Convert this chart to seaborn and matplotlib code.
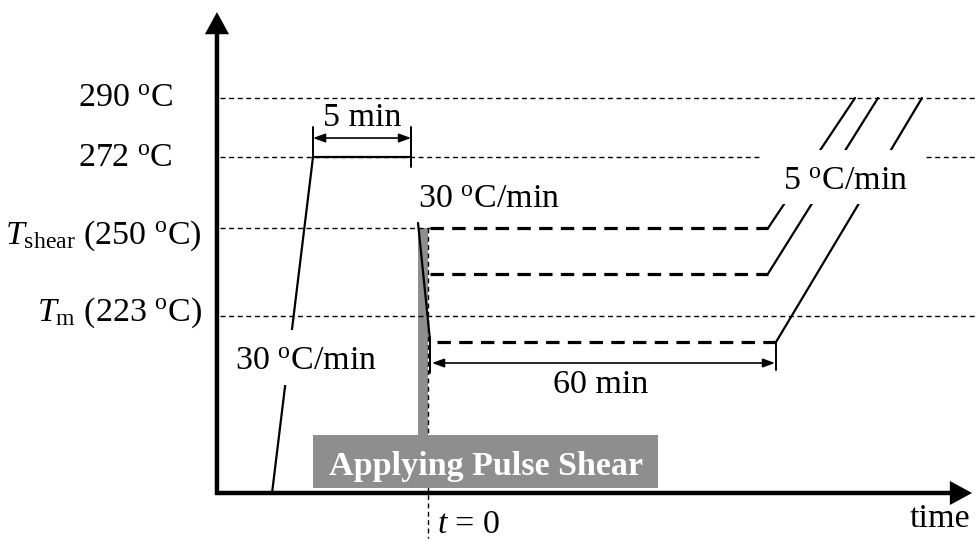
import numpy as np
import pandas as pd
import matplotlib
matplotlib.use("Agg")
import matplotlib.pyplot as plt
import seaborn as sns
from matplotlib.patches import Rectangle

# ---------------- data (schematic: time in min relative to shear start, T in degC) ----
ref_temps = [290, 272, 250, 223]
ref_labels = ["290 $^{\\mathrm{o}}$C", "272 $^{\\mathrm{o}}$C",
              "$T_{\\mathrm{shear}}$ (250 $^{\\mathrm{o}}$C)",
              "$T_{\\mathrm{m}}$ (223 $^{\\mathrm{o}}$C)"]
room_temp = 168.6
melt_temp = 272
final_temp = 290
heat_t = [-27.27, -20.10]          # heating at 30 C/min to 272
melt_t = [-20.10, -2.97]           # 5 min hold at 272
cool_t = [-1.75, 0.35]             # cooling at 30 C/min
cool_T = [251.6, 215.5]
hold_temps = [250, 236, 215]       # isothermal holds after shear
hold_start_t = [0.35, 0.35, 1.57]
hold_end_t = [59.44, 59.44, 60.84]
ramp_end_t = [74.65, 78.67, 86.36] # heating at 5 C/min up to 290
shear_t = [-1.75, 0.0]

# ---------------- style ----------------
sns.set_theme(style="white")
plt.rcParams["font.family"] = ["Liberation Serif", "DejaVu Serif"]
plt.rcParams["mathtext.fontset"] = "custom"
plt.rcParams["mathtext.rm"] = "Liberation Serif"
plt.rcParams["mathtext.it"] = "Liberation Serif:italic"
plt.rcParams["mathtext.bf"] = "Liberation Serif:bold"
plt.rcParams["text.color"] = "black"

FS = 24.5
fig = plt.figure(figsize=(9.78, 5.4), dpi=100)
ax = fig.add_axes([0, 0, 1, 1])

x_min_line = -36.36
x_max_line = 96.2

# thin dashed reference lines
thin_dash = (0, (3.6, 2.6))
for T in ref_temps:
    xe = 0.35 if T == 250 else x_max_line
    ax.plot([x_min_line, xe], [T, T], color="black", lw=1.0, linestyle=thin_dash, zorder=2)

# solid process lines via seaborn
segs = []
def add(seg, ts, Ts):
    for t, T in zip(ts, Ts):
        segs.append({"seg": seg, "t": t, "T": T})
add("heat", heat_t, [room_temp, melt_temp])
add("melt", melt_t, [melt_temp, melt_temp])
add("cool", cool_t, cool_T)
for i, (T, te, tr) in enumerate(zip(hold_temps, hold_end_t, ramp_end_t)):
    add(f"ramp{i}", [te, tr], [T, final_temp])
df = pd.DataFrame(segs)
sns.lineplot(data=df, x="t", y="T", units="seg", estimator=None, sort=False,
             color="black", lw=1.6, ax=ax, legend=False, zorder=3)
ax.set_xlim(-74.83, 96.15)
ax.set_ylim(154.15, 320.12)
ax.set_axis_off()

# heavy dashed isothermal holds
for T, ts, te in zip(hold_temps, hold_start_t, hold_end_t):
    ax.plot([ts, te], [T, T], color="black", lw=2.3, linestyle=(0, (4.2, 2.6)), zorder=3)

# dimension ticks
ax.plot([melt_t[0], melt_t[0]], [272, 281.1], color="black", lw=1.4, zorder=3)
ax.plot([melt_t[1], melt_t[1]], [268.8, 281.1], color="black", lw=1.4, zorder=3)
ax.plot([cool_t[1], cool_t[1]], [216.5, 205.5], color="black", lw=1.4, zorder=3)
ax.plot([hold_end_t[2], hold_end_t[2]], [215, 206.4], color="black", lw=1.4, zorder=3)

dim_style = "<|-|>,head_length=0.6,head_width=0.22"
ax.annotate("", xy=(melt_t[1], 277.7), xytext=(melt_t[0], 277.7),
            arrowprops=dict(arrowstyle=dim_style, lw=1.2, color="black",
                            shrinkA=0, shrinkB=0, mutation_scale=12), zorder=3)
ax.annotate("", xy=(60.66, 208.55), xytext=(0.70, 208.55),
            arrowprops=dict(arrowstyle=dim_style, lw=1.2, color="black",
                            shrinkA=0, shrinkB=0, mutation_scale=12), zorder=3)

# pulse shear bar and label box
ax.add_patch(Rectangle((shear_t[0], 186.43), shear_t[1] - shear_t[0], 250 - 186.43,
                       facecolor="#8e8e8e", edgecolor="none", zorder=1.5))
ax.plot([0, 0], [250, 154.8], color="black", lw=1.0, linestyle=(0, (3.5, 2.5)), zorder=2.5)
ax.add_patch(Rectangle((-20.10, 170.14), 40.21 + 20.10, 186.43 - 170.14,
                       facecolor="#8e8e8e", edgecolor="none", zorder=5))
ax.text(10.05, 174.1, "Applying Pulse Shear", ha="center", va="baseline",
        fontsize=FS, fontweight="bold", color="white", zorder=6)

# white masks behind rate labels
ax.add_patch(Rectangle((58.57, 257.42), 86.89 - 58.57, 274.02 - 257.42,
                       facecolor="white", edgecolor="none", zorder=4))
ax.add_patch(Rectangle((-34.3, 201.8), -8.4 + 34.3, 218.7 - 201.8,
                       facecolor="white", edgecolor="none", zorder=4))

# axes with arrows
axis_arrow = dict(arrowstyle="-|>,head_length=0.55,head_width=0.3", lw=3.2,
                  color="black", shrinkA=0, shrinkB=0, mutation_scale=20,
                  joinstyle="miter", capstyle="butt")
ax.annotate("", xy=(-36.9, 316.4), xytext=(-36.9, 168.0), arrowprops=axis_arrow, zorder=7)
ax.annotate("", xy=(95.1, 168.6), xytext=(-37.2, 168.6), arrowprops=axis_arrow, zorder=7)

# temperature labels
ax.text(-44.58, 287.3, ref_labels[0], ha="right", va="baseline", fontsize=FS, zorder=6)
ax.text(-44.58, 268.9, ref_labels[1], ha="right", va="baseline", fontsize=FS, zorder=6)
ax.text(-39.51, 245.3, ref_labels[2], ha="right", va="baseline", fontsize=FS, zorder=6)
ax.text(-39.51, 221.5, ref_labels[3], ha="right", va="baseline", fontsize=FS, zorder=6)

# annotations
ax.text(-11.5, 281.3, "5 min", ha="center", va="baseline", fontsize=FS, zorder=6)
ax.text(-21.33, 206.4, "30 $^{\\mathrm{o}}$C/min", ha="center", va="baseline", fontsize=FS, zorder=6)
ax.text(10.66, 256.2, "30 $^{\\mathrm{o}}$C/min", ha="center", va="baseline", fontsize=FS, zorder=6)
ax.text(72.9, 261.7, "5 $^{\\mathrm{o}}$C/min", ha="center", va="baseline", fontsize=FS, zorder=6)
ax.text(30.1, 199.3, "60 min", ha="center", va="baseline", fontsize=FS, zorder=6)
ax.text(1.57, 156.3, "$t$ = 0", ha="left", va="baseline", fontsize=FS, zorder=6)
ax.text(94.76, 158.15, "time", ha="right", va="baseline", fontsize=FS, zorder=6)

fig.savefig("out.png", dpi=100, facecolor="white")
